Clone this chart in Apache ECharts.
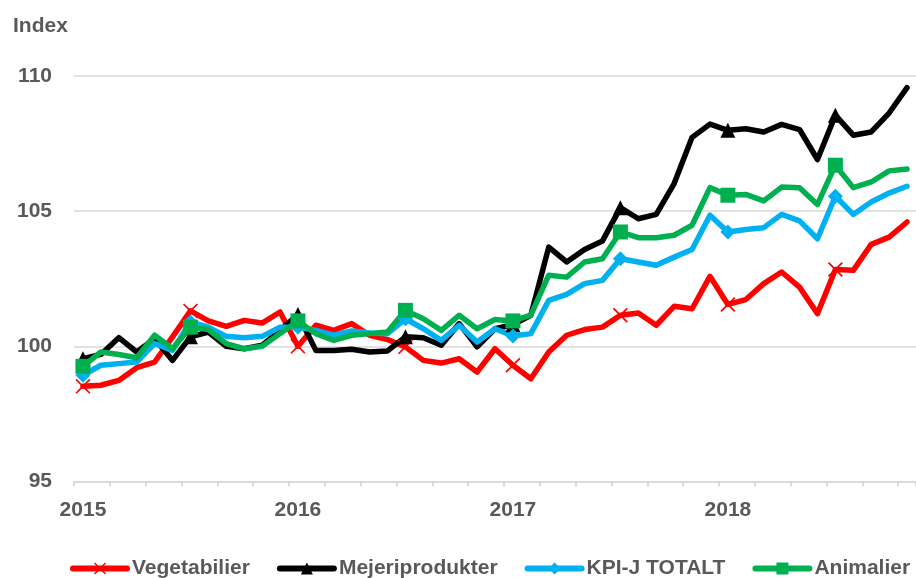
<!DOCTYPE html>
<html>
<head>
<meta charset="utf-8">
<script src="https://cdn.jsdelivr.net/npm/echarts@6/dist/echarts.min.js"></script>
<style>
  html, body { margin: 0; padding: 0; background: #fff; }
  #chart { width: 916px; height: 578px; }
</style>
</head>
<body>
<div id="chart"></div>
<script>
// ─── Data ────────────────────────────────────────
const years = [2015, 2016, 2017, 2018];
const months = [];
years.forEach(y => {
  for (let m = 1; m <= 12; m++) {
    if (y === 2018 && m > 11) break;
    months.push(y + '-' + String(m).padStart(2, '0'));
  }
});

const vegetabilier = [
  98.52, 98.56, 98.74, 99.21, 99.42, 100.35, 101.31, 100.94, 100.74, 100.96, 100.86, 101.27,
  100.0, 100.78, 100.59, 100.84, 100.41, 100.25, 99.98, 99.48, 99.38, 99.54, 99.05, 99.91,
  99.3, 98.80, 99.79, 100.41, 100.62, 100.71, 101.15, 101.23, 100.78, 101.48, 101.39, 102.59,
  101.55, 101.73, 102.32, 102.75, 102.19, 101.21, 102.84, 102.81, 103.77, 104.04, 104.60
];
const mejeriprodukter = [
  99.54, 99.70, 100.32, 99.79, 100.28, 99.48, 100.35, 100.53, 100.0, 99.91, 100.04, 100.59,
  101.18, 99.85, 99.85, 99.89, 99.79, 99.83, 100.35, 100.32, 100.04, 100.84, 99.98, 100.65,
  100.8, 101.15, 103.67, 103.12, 103.58, 103.90, 105.13, 104.72, 104.88, 106.02, 107.73, 108.22,
  107.99, 108.05, 107.93, 108.21, 108.02, 106.91, 108.55, 107.81, 107.93, 108.63, 109.57
];
const kpiTotalt = [
  98.93, 99.30, 99.36, 99.42, 100.10, 99.85, 100.90, 100.71, 100.37, 100.32, 100.37, 100.71,
  100.71, 100.59, 100.41, 100.57, 100.49, 100.47, 101.02, 100.65, 100.22, 100.78, 100.16, 100.65,
  100.38, 100.47, 101.70, 101.92, 102.32, 102.44, 103.24, 103.12, 103.0, 103.30, 103.58, 104.85,
  104.23, 104.32, 104.39, 104.88, 104.64, 103.98, 105.55, 104.88, 105.34, 105.67, 105.92
];
const animalier = [
  99.26, 99.79, 99.70, 99.58, 100.41, 99.91, 100.71, 100.62, 100.10, 99.91, 100.0, 100.47,
  100.94, 100.47, 100.22, 100.41, 100.47, 100.53, 101.33, 101.02, 100.59, 101.15, 100.65, 100.99,
  100.94, 101.15, 102.63, 102.56, 103.12, 103.24, 104.23, 104.02, 104.02, 104.11, 104.48, 105.87,
  105.59, 105.62, 105.38, 105.89, 105.87, 105.25, 106.70, 105.87, 106.08, 106.49, 106.56
];

// ─── Chart ────────────────────────────────────────
const FONT = "'Liberation Sans', Arial, sans-serif";
const GRAY = '#595959';
const CROSS = 'path://M0,1.6 L1.6,0 L10,8.4 L18.4,0 L20,1.6 L11.6,10 L20,18.4 L18.4,20 L10,11.6 L1.6,20 L0,18.4 L8.4,10 Z';

// markers only every 6th month, like the original
function withMarks(arr) {
  return arr.map((v, i) => i % 6 === 0 ? v : { value: v, symbol: 'none' });
}

function makeSeries(name, data, color, symbol, size) {
  return {
    name: name,
    type: 'line',
    data: withMarks(data),
    symbol: symbol,
    symbolSize: size,
    showSymbol: true,
    showAllSymbol: true,
    lineStyle: { color: color, width: 5.5, join: 'round', cap: 'round' },
    itemStyle: { color: color, borderWidth: 0 },
    emphasis: { disabled: true }
  };
}

const chart = echarts.init(document.getElementById('chart'));
chart.setOption({
  animation: false,
  title: {
    text: 'Index',
    left: 13,
    top: 16,
    padding: 0,
    textStyle: { fontFamily: FONT, fontSize: 21, fontWeight: 'bold', color: GRAY }
  },
  legend: {
    left: 70,
    top: 558,
    width: 860,
    padding: 0,
    itemWidth: 54,
    itemHeight: 15,
    itemGap: 27,
    lineStyle: { width: 6, cap: 'round' },
    textStyle: { fontFamily: FONT, fontSize: 21, fontWeight: 'bold', color: GRAY }
  },
  grid: { left: 74, top: 76, width: 846, height: 405.5 },
  xAxis: {
    type: 'category',
    data: months,
    boundaryGap: true,
    axisLine: { lineStyle: { color: '#d9d9d9', width: 1.5 } },
    axisTick: { show: true, interval: 1, length: 5, lineStyle: { color: '#d0d0d0', width: 1.5 } },
    axisLabel: {
      interval: 11,
      margin: 18,
      fontFamily: FONT, fontSize: 21, fontWeight: 'bold', color: GRAY,
      formatter: v => v.slice(0, 4)
    },
    splitLine: { show: false }
  },
  yAxis: {
    type: 'value',
    min: 95,
    max: 110,
    interval: 5,
    axisLine: { show: false },
    axisTick: { show: false },
    axisLabel: { margin: 22, fontFamily: FONT, fontSize: 21, fontWeight: 'bold', color: GRAY },
    splitLine: { lineStyle: { color: '#d9d9d9', width: 1.5 } }
  },
  series: [
    makeSeries('Vegetabilier', vegetabilier, '#ff0000', CROSS, 15),
    makeSeries('Mejeriprodukter', mejeriprodukter, '#000000', 'triangle', 15),
    makeSeries('KPI-J TOTALT', kpiTotalt, '#00b0f0', 'diamond', 15),
    makeSeries('Animalier', animalier, '#00b050', 'rect', 15)
  ]
});
</script>
</body>
</html>
